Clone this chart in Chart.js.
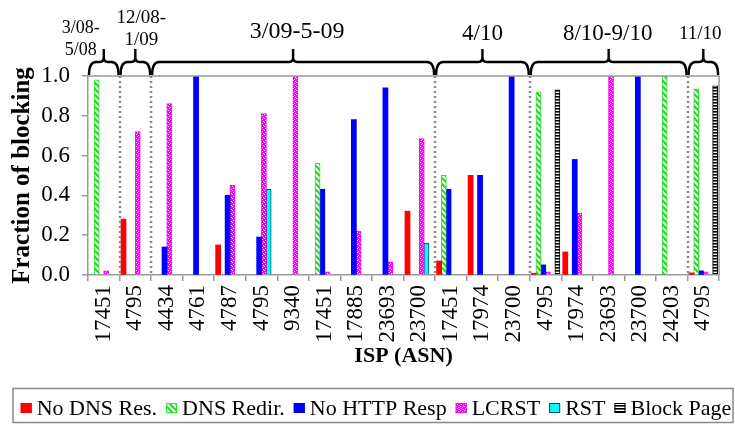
<!DOCTYPE html>
<html>
<head>
<meta charset="utf-8">
<script src="https://cdn.jsdelivr.net/npm/chart.js@4.4.1/dist/chart.umd.min.js"></script>
<style>
  html, body { margin: 0; padding: 0; background: #fff; }
</style>
</head>
<body>
<canvas id="chart" width="735" height="425"></canvas>
<script>
// ISP (ASN) per measurement period
const asns = ['17451', '4795', '4434', '4761', '4787', '4795', '9340', '17451', '17885', '23693',
  '23700', '17451', '17974', '23700', '4795', '17974', '23693', '23700', '24203', '4795'];

const noDnsRes = [0, 0.28, 0, 0, 0.15, 0, 0, 0, 0, 0, 0.32, 0.07, 0.50, 0, 0.008, 0.115, 0, 0, 0, 0.01];
const dnsRedir = [0.98, 0, 0, 0, 0, 0, 0, 0.56, 0, 0, 0, 0.50, 0, 0, 0.92, 0, 0, 0, 1.0, 0.935];
const noHttpResp = [0, 0, 0.14, 1.0, 0.40, 0.19, 0, 0.43, 0.78, 0.94, 0, 0.43, 0.50, 1.0, 0.05, 0.58, 0, 1.0, 0, 0.02];
const lcrst = [0.02, 0.72, 0.86, 0, 0.45, 0.81, 1.0, 0.015, 0.22, 0.065, 0.685, 0, 0, 0, 0.015, 0.31, 1.0, 0, 0, 0.015];
const rst = [0, 0, 0, 0, 0, 0.43, 0, 0, 0, 0, 0.16, 0, 0, 0, 0, 0, 0, 0, 0, 0];
const blockPage = [0, 0, 0, 0, 0, 0, 0, 0, 0, 0, 0, 0, 0, 0, 0.93, 0, 0, 0, 0, 0.95];

const yTicks = [0, 0.2, 0.4, 0.6, 0.8, 1.0];

// measurement periods: label lines, first and last category index
const periodLabels = [['3/08-', '5/08'], ['12/08-', '1/09'], ['3/09-5-09'], ['4/10'], ['8/10-9/10'], ['11/10']];
const periodFirst = [0, 1, 2, 11, 14, 19];
const periodLast = [0, 1, 10, 13, 18, 19];

const serif = '"Liberation Serif", "Times New Roman", serif';

function makePattern(w, h, paint) {
  const c = document.createElement('canvas');
  c.width = w; c.height = h;
  const g = c.getContext('2d');
  paint(g);
  return g.createPattern(c, 'repeat');
}

const greenHatch = makePattern(6, 6, g => {
  g.fillStyle = '#fff';
  g.fillRect(0, 0, 6, 6);
  g.strokeStyle = '#10e010';
  g.lineWidth = 2;
  g.beginPath();
  g.moveTo(-1, -1); g.lineTo(7, 7);
  g.moveTo(-1, 5); g.lineTo(1, 7);
  g.moveTo(5, -1); g.lineTo(7, 1);
  g.stroke();
});

const magentaDots = makePattern(4, 4, g => {
  g.fillStyle = '#ff00ff';
  g.fillRect(0, 0, 4, 4);
  g.fillStyle = '#ffe0ff';
  g.fillRect(1, 0, 1, 1);
  g.fillRect(3, 1, 1, 1);
  g.fillRect(0, 2, 1, 1);
  g.fillRect(2, 3, 1, 1);
});

const blackStripes = makePattern(4, 3, g => {
  g.fillStyle = '#fff';
  g.fillRect(0, 0, 4, 3);
  g.fillStyle = '#000';
  g.fillRect(0, 0, 4, 1.6);
});

const series = [
  { label: 'No DNS Res.', data: noDnsRes, backgroundColor: '#ff0000', borderColor: '#ff0000', borderWidth: 0 },
  { label: 'DNS Redir.', data: dnsRedir, backgroundColor: greenHatch, borderColor: '#22ee22', borderWidth: 1 },
  { label: 'No HTTP Resp', data: noHttpResp, backgroundColor: '#0000ff', borderColor: '#0000ff', borderWidth: 0 },
  { label: 'LCRST', data: lcrst, backgroundColor: magentaDots, borderColor: '#ff00ff', borderWidth: 1 },
  { label: 'RST', data: rst, backgroundColor: '#00ffff', borderColor: '#005555', borderWidth: 1 },
  { label: 'Block Page', data: blockPage, backgroundColor: blackStripes, borderColor: '#000', borderWidth: 1 }
];

function boundaryX(xs, i) {
  const w = (xs.right - xs.left) / asns.length;
  return xs.getPixelForValue(i) + w / 2;
}

// gray frame round the plot plus dotted lines between periods
const framePlugin = {
  id: 'frame',
  afterDatasetsDraw(chart) {
    const { ctx, chartArea: a } = chart;
    const xs = chart.scales.x;
    ctx.save();
    ctx.strokeStyle = '#999';
    ctx.lineWidth = 1.5;
    ctx.beginPath();
    ctx.moveTo(a.left, a.top); ctx.lineTo(a.right, a.top); ctx.lineTo(a.right, a.bottom);
    ctx.stroke();
    ctx.strokeStyle = '#888';
    ctx.lineWidth = 2.5;
    ctx.setLineDash([2, 3]);
    for (let p = 0; p < periodLast.length - 1; p++) {
      const x = Math.round(boundaryX(xs, periodLast[p]));
      ctx.beginPath();
      ctx.moveTo(x, a.top);
      ctx.lineTo(x, a.bottom);
      ctx.stroke();
    }
    ctx.restore();
  }
};

// curly braces and period names above the plot
const bracePlugin = {
  id: 'braces',
  afterDraw(chart, args, opts) {
    const { ctx, chartArea: a } = chart;
    const xs = chart.scales.x;
    const yLine = 62, yEnd = a.top - 1, yPeak = 49;
    ctx.save();
    ctx.strokeStyle = '#000';
    ctx.lineWidth = 2.4;
    ctx.lineJoin = 'round';
    for (let p = 0; p < periodLabels.length; p++) {
      const x0 = boundaryX(xs, periodFirst[p] - 1) + 1;
      const x1 = boundaryX(xs, periodLast[p]) - 1;
      const cx = (x0 + x1) / 2;
      ctx.beginPath();
      ctx.moveTo(x0, yEnd);
      ctx.quadraticCurveTo(x0, yLine, x0 + 7, yLine);
      ctx.lineTo(cx - 4, yLine);
      ctx.quadraticCurveTo(cx, yLine, cx, yLine - 5);
      ctx.lineTo(cx, yPeak);
      ctx.moveTo(cx, yLine - 5);
      ctx.quadraticCurveTo(cx, yLine, cx + 4, yLine);
      ctx.lineTo(x1 - 7, yLine);
      ctx.quadraticCurveTo(x1, yLine, x1, yEnd);
      ctx.stroke();

      const lines = periodLabels[p];
      ctx.fillStyle = '#000';
      ctx.textAlign = 'center';
      ctx.textBaseline = 'alphabetic';
      ctx.font = opts.sizes[p] + 'px ' + serif;
      for (let l = 0; l < lines.length; l++) {
        const y = opts.baselines[p] - (lines.length - 1 - l) * 22;
        ctx.fillText(lines[l], cx + opts.dx[p], y);
      }
    }
    ctx.restore();
  }
};

// boxed legend along the bottom
const legendPlugin = {
  id: 'boxLegend',
  afterDraw(chart) {
    const { ctx } = chart;
    const sets = chart.data.datasets;
    ctx.save();
    ctx.font = '22px ' + serif;
    const box = 11, gapText = 5, gapItem = 9;
    let total = 0;
    const widths = sets.map(d => ctx.measureText(d.label).width);
    widths.forEach(w => { total += box + gapText + w; });
    total += gapItem * (sets.length - 1);
    ctx.strokeStyle = '#888';
    ctx.lineWidth = 1.5;
    ctx.strokeRect(13, 388.5, 720, 34);
    let x = 376 - total / 2;
    const cy = 408;
    ctx.textBaseline = 'middle';
    ctx.textAlign = 'left';
    sets.forEach((d, i) => {
      ctx.fillStyle = d.backgroundColor;
      ctx.fillRect(x, cy - 5, box, 10);
      if (d.borderWidth) {
        ctx.strokeStyle = d.borderColor;
        ctx.lineWidth = 1;
        ctx.strokeRect(x + 0.5, cy - 4.5, box - 1, 9);
      }
      ctx.fillStyle = '#000';
      ctx.fillText(d.label, x + box + gapText, cy + 1);
      x += box + gapText + widths[i] + gapItem;
    });
    ctx.restore();
  }
};

new Chart(document.getElementById('chart'), {
  type: 'bar',
  data: {
    labels: asns,
    datasets: series.map(s => Object.assign({}, s, {
      categoryPercentage: 0.9, barPercentage: 1.0,
      inflateAmount: c => (c.raw > 0 ? 0.5 : 0),
      borderWidth: c => (c.raw > 0 ? s.borderWidth : 0)
    }))
  },
  options: {
    responsive: false,
    devicePixelRatio: 1,
    animation: false,
    layout: { padding: { top: 76, right: 3, bottom: 40, left: 0 } },
    plugins: {
      legend: { display: false },
      tooltip: { enabled: false },
      braces: {
        sizes: [18, 19, 24, 23, 23, 19],
        baselines: [55, 45, 38, 40, 40, 39],
        dx: [-23, 6, 4, 0, -1, -3]
      }
    },
    scales: {
      x: {
        afterFit: s => { s.height = 110; },
        grid: { offset: true, drawOnChartArea: false, tickLength: 6, color: '#999', lineWidth: 1.5 },
        border: { color: '#999', width: 1.5 },
        ticks: {
          autoSkip: false, maxRotation: 90, minRotation: 90, padding: 4,
          color: '#000', font: { family: serif, size: 23 }
        },
        title: {
          display: true, text: 'ISP (ASN)', color: '#000',
          font: { family: serif, size: 22, weight: 'bold' },
          padding: { top: 0, bottom: 15 }
        }
      },
      y: {
        min: 0, max: 1,
        afterFit: s => { s.width = 88; },
        afterBuildTicks: s => { s.ticks = yTicks.map(v => ({ value: v })); },
        grid: { drawOnChartArea: false, tickLength: 6, color: '#999', lineWidth: 1.5 },
        border: { color: '#999', width: 1.5 },
        ticks: {
          padding: 12, color: '#000',
          font: { family: serif, size: 23 },
          callback: v => v.toFixed(1)
        },
        title: {
          display: true, text: 'Fraction of blocking', color: '#000',
          font: { family: serif, size: 25, weight: 'bold' },
          padding: { top: 8, bottom: 0 }
        }
      }
    }
  },
  plugins: [framePlugin, bracePlugin, legendPlugin]
});
</script>
</body>
</html>
